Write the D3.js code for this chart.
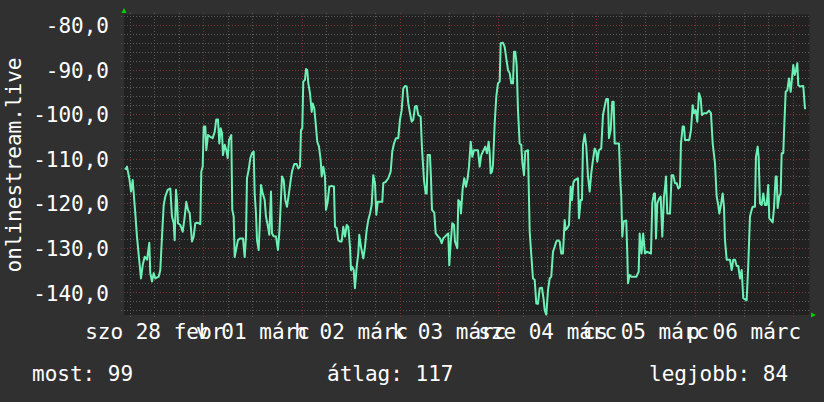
<!DOCTYPE html>
<html>
<head>
<meta charset="utf-8">
<script src="https://cdn.jsdelivr.net/npm/d3@7"></script>
<style>
  html, body { margin: 0; padding: 0; background: #303030; }
  svg { display: block; }
  text { font-family: "DejaVu Sans Mono", monospace; }
</style>
</head>
<body>
<svg id="chart" width="824" height="402"></svg>
<script>
// ---------- data ----------
const startDay = [2015, 1, 28];           // 28 Feb 2015, local midnight (hours below count from here)
const viewHours = [4.63, 172.03];          // visible time window, hours after start
const hours = [
  4.95,5.36,5.92,6.34,6.75,7.39,7.80,8.22,8.78,9.20,9.68,10.25,10.81,11.05,11.47,11.88,12.27,13.10,13.50,13.91,
  14.33,14.72,15.30,15.94,16.35,16.77,17.01,17.33,17.57,17.82,18.38,18.97,19.36,19.85,20.26,20.68,21.24,21.65,22.04,22.70,
  23.27,23.51,23.85,24.10,24.49,24.73,25.15,25.71,26.29,26.78,27.17,27.59,27.91,28.25,28.57,28.81,29.23,29.62,29.96,30.28,
  30.84,31.08,31.42,31.67,31.99,32.47,33.04,33.70,34.11,34.43,34.67,35.09,35.48,35.89,36.31,36.55,36.87,37.12,37.53,37.77,
  38.09,38.51,39.00,39.31,39.80,40.12,40.54,40.78,41.19,41.76,42.24,42.56,42.81,43.22,43.64,44.03,44.44,44.86,45.25,45.66,
  46.23,46.81,47.20,47.62,47.86,48.18,48.42,48.84,49.09,49.40,49.65,50.06,50.48,50.72,51.11,51.45,51.84,52.26,52.67,52.92,
  53.31,53.72,53.97,54.38,54.78,55.36,55.92,56.17,56.58,56.97,57.39,57.80,58.19,58.61,59.03,59.42,59.83,60.08,60.39,60.74,
  61.05,61.47,61.86,62.10,62.52,63.08,63.50,63.91,64.30,64.72,65.13,65.52,65.94,66.26,66.60,67.72,67.97,68.55,69.19,69.77,
  70.16,70.58,71.07,71.63,72.04,72.46,72.85,73.27,73.68,74.07,74.49,74.90,75.29,75.71,76.12,76.51,77.10,77.42,77.91,78.32,
  78.57,78.81,79.37,79.62,79.86,80.42,80.77,81.40,81.82,82.23,82.62,83.45,83.84,84.09,84.43,84.82,85.24,85.48,86.04,86.29,
  86.70,86.94,87.36,87.75,88.17,88.58,88.90,89.32,89.71,90.12,91.10,91.51,91.90,92.32,92.88,93.29,93.71,93.96,94.20,94.52,
  94.76,95.18,95.57,95.98,96.40,96.64,97.21,97.62,98.01,98.43,98.84,99.23,99.65,99.89,100.21,100.55,100.87,101.28,101.67,101.92,
  102.33,102.65,103.31,103.73,104.12,104.53,104.95,105.34,105.75,106.17,106.73,107.15,107.39,107.78,108.20,108.61,109.00,109.42,109.83,110.22,
  110.64,111.05,111.44,111.86,112.27,112.52,112.91,113.33,113.74,114.06,114.38,114.72,115.52,115.77,116.18,116.50,116.75,117.16,117.55,117.97,
  118.38,118.77,119.19,119.60,119.99,120.23,120.65,121.21,121.63,122.04,122.43,122.85,123.09,123.51,123.90,124.24,124.49,125.54,125.86,126.10,
  126.35,126.69,127.32,127.57,127.74,128.15,128.54,129.77,130.35,130.60,131.04,131.45,131.89,132.31,133.36,133.67,134.09,134.33,134.58,134.90,
  135.38,135.73,136.12,136.53,136.77,137.02,137.34,138.00,138.41,138.80,139.22,139.64,140.03,140.44,140.68,141.10,141.42,141.66,142.71,143.13,
  143.54,143.86,144.27,144.67,145.08,145.50,145.81,146.30,146.96,147.52,148.01,148.43,148.99,149.40,149.79,150.04,150.45,150.87,151.19,151.43,
  151.85,152.65,153.07,153.46,153.88,154.29,154.68,155.10,155.51,155.90,156.73,157.12,157.54,157.95,158.20,158.76,159.00,159.42,159.66,159.98,
  160.40,160.79,161.20,161.62,162.01,162.25,162.67,163.08,163.40,163.81,164.06,164.30,164.69,165.03,165.28,165.67,165.91,166.26,166.65,167.07,
  167.48,167.80,168.12,168.46,168.78,169.10,169.34,169.76,170.56,170.97,171.22
];
const values = [
  -112.5,-111.8,-114.4,-117.4,-114.8,-122.3,-127.5,-131.6,-136.9,-133.9,-132.0,-132.7,-128.9,-135.7,-137.6,-135.7,-136.9,-136.5,-135.0,-127.5,
  -120.4,-118.5,-117.0,-116.7,-123.0,-124.5,-128.3,-117.0,-119.3,-124.5,-124.9,-126.4,-123.8,-119.7,-121.5,-122.3,-128.6,-127.5,-124.5,-124.4,
  -124.7,-112.9,-111.8,-102.8,-102.8,-108.1,-104.7,-105.1,-105.4,-104.0,-101.2,-101.2,-106.6,-103.2,-104.3,-109.2,-106.9,-108.1,-109.9,-105.8,
  -104.7,-121.5,-123.0,-132.1,-130.5,-128.3,-127.9,-127.9,-132.1,-127.5,-114.4,-112.5,-109.9,-108.8,-108.4,-117.8,-122.3,-128.3,-130.5,-125.3,
  -115.9,-117.8,-119.3,-123.0,-125.3,-127.1,-117.4,-126.8,-127.4,-127.5,-130.5,-126.8,-122.3,-114.0,-114.8,-119.3,-120.8,-118.2,-115.5,-112.9,
  -111.2,-111.2,-112.2,-111.8,-103.6,-103.2,-92.7,-92.3,-89.9,-90.1,-93.1,-95.3,-99.5,-97.6,-98.7,-102.1,-106.2,-107.3,-110.3,-114.0,
  -111.8,-114.0,-121.5,-119.7,-116.3,-116.1,-116.3,-125.3,-125.6,-128.3,-128.6,-128.6,-125.3,-127.5,-124.9,-125.3,-129.8,-135.0,-134.3,-135.0,
  -139.1,-134.3,-131.3,-127.1,-129.8,-132.4,-129.8,-126.0,-123.8,-122.3,-120.4,-113.7,-115.5,-122.6,-119.7,-119.7,-115.5,-115.2,-114.4,-112.9,
  -108.4,-106.6,-105.4,-105.4,-101.3,-99.1,-94.2,-93.7,-93.8,-97.6,-99.8,-101.7,-101.3,-98.3,-98.2,-100.2,-100.6,-107.7,-114.8,-117.8,
  -117.8,-109.2,-109.2,-114.4,-121.5,-122.1,-126.8,-127.5,-127.9,-129.0,-127.9,-127.1,-126.8,-133.9,-129.0,-124.5,-124.9,-128.6,-130.1,-119.3,
  -119.7,-122.3,-116.7,-114.4,-116.3,-114.4,-111.8,-106.2,-109.6,-108.1,-108.1,-111.8,-109.2,-108.4,-107.3,-108.8,-106.2,-108.8,-113.3,-112.9,
  -111.4,-102.1,-96.1,-93.1,-92.7,-84.1,-84.0,-84.9,-87.5,-90.1,-90.8,-93.1,-93.1,-86.0,-86.0,-89.0,-99.1,-106.6,-106.9,-110.7,
  -113.7,-108.4,-108.1,-126.4,-131.6,-136.9,-137.2,-142.5,-142.6,-139.1,-139.0,-141.7,-144.0,-145.0,-139.5,-136.9,-136.5,-130.9,-129.8,-128.6,
  -128.3,-128.6,-131.3,-131.3,-123.8,-126.0,-125.6,-124.9,-116.3,-119.3,-115.5,-114.8,-114.4,-123.4,-119.3,-119.3,-106.9,-104.5,-107.3,-114.0,
  -117.4,-113.3,-110.3,-107.7,-108.4,-110.7,-108.1,-107.7,-100.2,-98.3,-96.6,-96.6,-105.4,-103.6,-97.2,-97.2,-106.6,-106.6,-114.8,-118.5,
  -127.5,-124.1,-123.9,-131.3,-138.0,-136.1,-136.5,-136.5,-135.4,-126.8,-131.3,-126.8,-131.3,-130.9,-131.3,-120.0,-117.8,-117.8,-127.9,-120.0,
  -118.9,-118.5,-127.5,-118.5,-116.7,-114.0,-122.3,-122.3,-113.7,-113.7,-115.5,-115.5,-116.7,-116.3,-106.6,-102.8,-102.8,-105.8,-105.8,-103.6,
  -98.0,-99.8,-99.1,-101.7,-95.3,-96.5,-100.2,-99.8,-99.8,-99.2,-99.8,-106.6,-111.0,-118.5,-120.4,-122.3,-120.4,-117.8,-120.8,-128.3,
  -132.7,-132.7,-135.0,-132.7,-132.7,-134.1,-134.1,-136.9,-135.0,-141.3,-141.8,-133.9,-123.0,-121.5,-120.8,-120.8,-109.6,-107.3,-109.6,-120.0,
  -120.4,-117.8,-120.4,-120.4,-115.9,-123.4,-123.8,-124.3,-121.1,-114.0,-114.0,-121.1,-118.5,-117.8,-108.8,-108.8,-102.8,-95.0,-94.7,-92.0,
  -95.0,-92.0,-89.0,-91.2,-90.1,-88.6,-93.5,-93.8,-93.7,-98.7,-98.7
];
const yDomain = [-145.1, -77.64];
const yTicks = [-80, -90, -100, -110, -120, -130, -140];
const dayLabels = ["szo 28 febr", "v 01 márc", "h 02 márc", "k 03 márc", "sze 04 márc", "cs 05 márc", "p 06 márc"];
const yTitle = "onlinestream.live";
const legendItems = ["most: 99", "átlag: 117", "legjobb: 84"];

// ---------- layout ----------
const plot = { left: 124, right: 809.3, top: 14.5, bottom: 315 };
const T0 = new Date(startDay[0], startDay[1], startDay[2]).getTime();
const toDate = h => new Date(T0 + h * 3600e3);

const x = d3.scaleTime().domain(viewHours.map(toDate)).range([plot.left, plot.right]);
const y = d3.scaleLinear().domain(yDomain).range([plot.bottom, plot.top]);

const svg = d3.select("#chart");
svg.append("rect").attr("width", 824).attr("height", 402).attr("fill", "#303030");
svg.append("rect")
  .attr("x", plot.left).attr("y", plot.top)
  .attr("width", plot.right - plot.left).attr("height", plot.bottom - plot.top)
  .attr("fill", "#212121");

// grid
const grid = svg.append("g");
const minorY = d3.range(-144, -77, 2).filter(v => v % 10 !== 0);
grid.selectAll(".hmin").data(minorY).join("line")
  .attr("x1", plot.left - 3).attr("x2", plot.right + 1)
  .attr("y1", d => Math.round(y(d)) + 0.5).attr("y2", d => Math.round(y(d)) + 0.5)
  .attr("stroke", "#5a5a5a").attr("stroke-dasharray", "1,2");
grid.selectAll(".hmaj").data(d3.range(-140, -79, 10)).join("line")
  .attr("x1", plot.left - 3).attr("x2", plot.right + 1)
  .attr("y1", d => Math.round(y(d)) + 0.5).attr("y2", d => Math.round(y(d)) + 0.5)
  .attr("stroke", "#7d3434").attr("stroke-dasharray", "1,2");

const sixHours = d3.range(6, viewHours[1], 6).filter(h => h > viewHours[0]);
grid.selectAll(".vmin").data(sixHours.filter(h => h % 24 !== 0)).join("line")
  .attr("x1", d => Math.round(x(toDate(d))) + 0.5).attr("x2", d => Math.round(x(toDate(d))) + 0.5)
  .attr("y1", plot.top - 1.5).attr("y2", plot.bottom + 3)
  .attr("stroke", "#5a5a5a").attr("stroke-dasharray", "1,2");
grid.selectAll(".vmaj").data(sixHours.filter(h => h % 24 === 0)).join("line")
  .attr("x1", d => Math.round(x(toDate(d))) + 0.5).attr("x2", d => Math.round(x(toDate(d))) + 0.5)
  .attr("y1", plot.top - 1.5).attr("y2", plot.bottom + 3)
  .attr("stroke", "#7d3434").attr("stroke-dasharray", "1,2");

// data line
const series = hours.map((h, i) => ({ t: toDate(h), v: values[i] }));
svg.append("path")
  .datum(series)
  .attr("fill", "none")
  .attr("stroke", "#6df0b5")
  .attr("stroke-width", 2)
  .attr("stroke-linejoin", "round")
  .attr("d", d3.line().x(d => x(d.t)).y(d => y(d.v)));

// arrows
svg.append("path").attr("d", `M${plot.left - 2.5},13 L${plot.left + 2.5},13 L${plot.left},8 Z`).attr("fill", "#00d000");
svg.append("path").attr("d", `M811,${plot.bottom - 2.5} L811,${plot.bottom + 2.5} L816,${plot.bottom} Z`).attr("fill", "#00d000");

// y axis labels
const yAxis = d3.axisLeft(y).tickValues(yTicks).tickSize(0).tickPadding(0)
  .tickFormat(d => d.toFixed(1).replace(".", ","));
const gy = svg.append("g").attr("transform", "translate(109,0)").call(yAxis);
gy.select(".domain").remove();
gy.selectAll("text")
  .attr("fill", "#ffffff").attr("font-size", 21)
  .attr("font-family", "DejaVu Sans Mono").attr("dy", "0.37em");

// x axis labels (centered at noon of each day)
const noons = dayLabels.map((_, i) => toDate(12 + 24 * i));
const xAxis = d3.axisBottom(x).tickValues(noons).tickSize(0).tickPadding(0)
  .tickFormat((d, i) => dayLabels[i]);
const gx = svg.append("g").attr("transform", `translate(0,${plot.bottom})`).call(xAxis);
gx.select(".domain").remove();
gx.selectAll("text")
  .attr("fill", "#ffffff").attr("font-size", 21)
  .attr("font-family", "DejaVu Sans Mono")
  .attr("y", 23.5).attr("dy", 0);

// y title
svg.append("text")
  .attr("transform", "translate(20.5,165) rotate(-90)")
  .attr("text-anchor", "middle")
  .attr("fill", "#ffffff").attr("font-size", 21)
  .text(yTitle);

// legend
const legendX = [32, 327, 649];
svg.selectAll(".legend").data(legendItems).join("text")
  .attr("x", (d, i) => legendX[i]).attr("y", 381)
  .attr("fill", "#ffffff").attr("font-size", 21)
  .text(d => d);
</script>
</body>
</html>
